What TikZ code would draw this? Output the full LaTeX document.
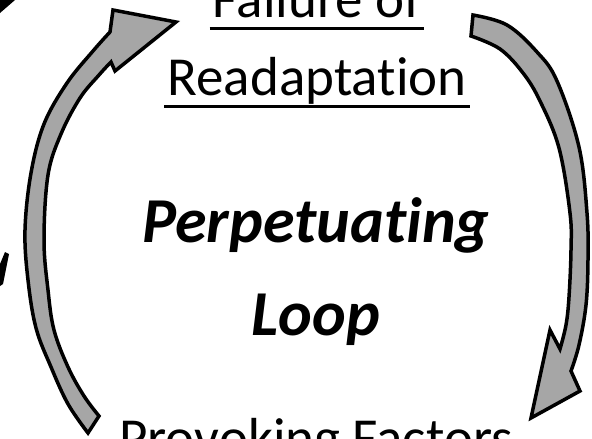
\documentclass[tikz,border=0pt]{standalone}
\usepackage{fontspec}
\setmainfont[Ligatures=NoCommon]{Carlito}
\definecolor{loopgray}{RGB}{166,166,166}
\begin{document}
\begin{tikzpicture}[x=1pt,y=-1pt,
  looparrow/.style={draw=black,line width=3.5pt,fill=loopgray,line join=miter},
  steplabel/.style={inner sep=0pt,anchor=base,font=\fontsize{55}{60}\selectfont},
  looptitle/.style={inner sep=0pt,anchor=base,font=\fontsize{64}{70}\selectfont\bfseries\itshape},
  uline/.style={line width=3pt}]
\useasboundingbox (0,0) rectangle (592,439);
\clip (0,0) rectangle (592,439);

% pieces of neighbouring shapes at the left edge
\fill (0,0) -- (15,0) -- (0,13) -- cycle;
\fill (5,252) -- (9,254) -- (3,284) -- (0,286) -- (0,264) -- cycle;

% left arrow: up towards the top label
\draw[looparrow]
  plot[smooth,tension=0.6] coordinates {(88,433) (68,404) (51,367) (36,328) (28,280) (25,230) (31,173) (44,124) (67,83) (93,51) (110,32)}
  -- (113,10) -- (176,22) -- (115,71) -- (111,62)
  -- plot[smooth,tension=0.6] coordinates {(111,62) (99,75) (80,98) (61,134) (48,175) (44,240) (48,290) (54,330) (68,367) (84,396) (99,416)}
  -- cycle;

% right arrow: down towards the bottom label
\draw[looparrow]
  plot[smooth,tension=0.6] coordinates {(473,15) (507,25) (537,52) (557,81) (579,147) (587,213) (588,260) (586,305) (579,345) (571,371)}
  -- (580,391) -- (531,418) -- (550,330) -- (560,349)
  -- plot[smooth,tension=0.6] coordinates {(560,349) (566,325) (569,297) (571,250) (570,213) (559,148) (540,101) (523,73) (500,49) (471,36)}
  -- cycle;

% labels
\node[steplabel] (fail) at (317,17) {Failure of};
\draw[uline] ([shift={(-3,11)}]fail.base west) -- ([shift={(3,11)}]fail.base east);
\node[steplabel] (readapt) at (317,95) {Readaptation};
\draw[uline] ([shift={(-3,11)}]readapt.base west) -- ([shift={(3,11)}]readapt.base east);

\node[looptitle] (perp) at (316,242) {Perpetuating};
\node[looptitle] (loop) at (316,335) {Loop};

\node[steplabel] (provok) at (316,456) {Provoking Factors};
\end{tikzpicture}
\end{document}
